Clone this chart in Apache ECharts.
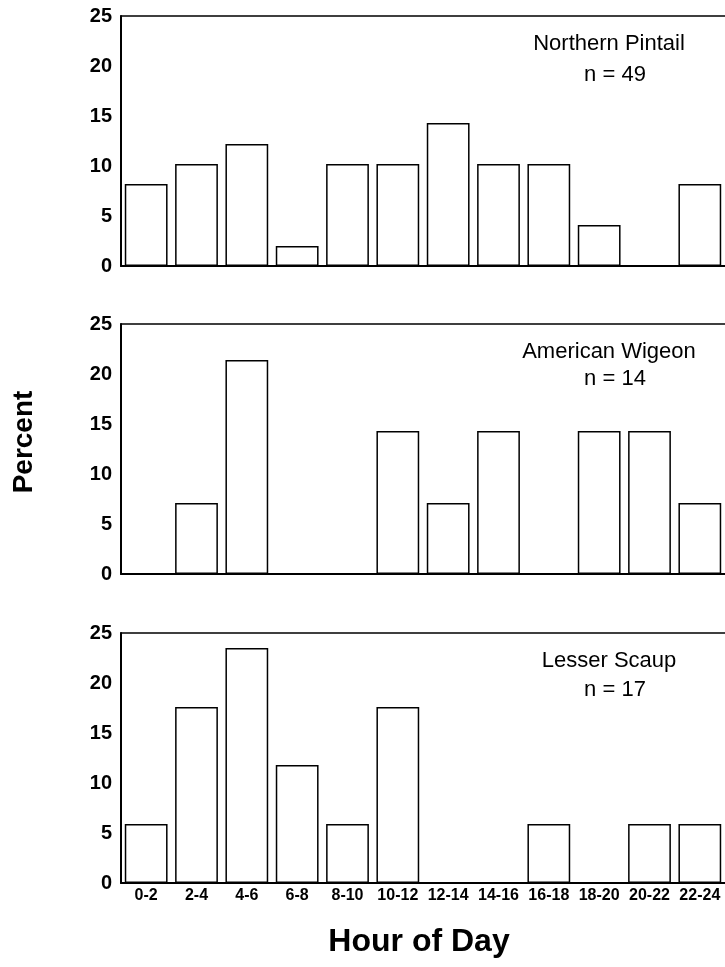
<!DOCTYPE html>
<html>
<head>
<meta charset="utf-8">
<script src="https://cdn.jsdelivr.net/npm/echarts@6/dist/echarts.min.js"></script>
<style>
html,body{margin:0;padding:0;background:#fff;}
#chart{width:725px;height:967px;}
</style>
</head>
<body>
<div id="chart"></div>
<script>
const categories = ['0-2','2-4','4-6','6-8','8-10','10-12','12-14','14-16','16-18','18-20','20-22','22-24'];
const yTicks = [0, 5, 10, 15, 20, 25];
const pintail = [8.2, 10.2, 12.2, 2.0, 10.2, 10.2, 14.3, 10.2, 10.2, 4.1, 0, 8.2];
const wigeon = [0, 7.1, 21.4, 0, 0, 14.3, 7.1, 14.3, 0, 14.3, 14.3, 7.1];
const scaup = [5.9, 17.6, 23.5, 11.8, 5.9, 17.6, 0, 0, 5.9, 0, 5.9, 5.9];
const speciesNames = ['Northern Pintail', 'American Wigeon', 'Lesser Scaup'];
const sampleSizes = ['n = 49', 'n = 14', 'n = 17'];

const FONT = '"Liberation Sans", Arial, sans-serif';
const panels = [
  {top: 16, data: pintail},
  {top: 324, data: wigeon},
  {top: 633, data: scaup}
];
const PH = 250;
const titleY = [[28, 59], [336, 363], [645, 674]];

const grid = [], xAxis = [], yAxis = [], series = [], title = [];
panels.forEach((p, i) => {
  grid.push({left: 121, width: 608, top: p.top, height: PH});
  const isLast = i === panels.length - 1;
  xAxis.push({
    type: 'category', gridIndex: i, data: categories, position: 'bottom',
    axisLine: {show: true, lineStyle: {color: '#000', width: 2}},
    axisTick: {show: false},
    axisLabel: {show: isLast, interval: 0, margin: 5, color: '#000',
      fontFamily: FONT, fontWeight: 'bold', fontSize: 16}
  });
  xAxis.push({
    type: 'category', gridIndex: i, data: categories, position: 'top',
    axisLine: {show: true, lineStyle: {color: '#000', width: 1.5}},
    axisTick: {show: false}, axisLabel: {show: false}
  });
  yAxis.push({
    type: 'value', gridIndex: i, min: yTicks[0], max: yTicks[yTicks.length - 1], interval: 5,
    axisLine: {show: true, lineStyle: {color: '#000', width: 2}},
    axisTick: {show: false},
    splitLine: {show: false},
    axisLabel: {margin: 9, color: '#000', fontFamily: FONT, fontWeight: 'bold', fontSize: 20}
  });
  series.push({
    type: 'bar', xAxisIndex: i * 2, yAxisIndex: i, data: p.data,
    barCategoryGap: '15%',
    itemStyle: {color: '#fff', borderColor: '#000', borderWidth: 1.5},
    silent: true, animation: false
  });
  title.push({text: speciesNames[i], left: 604, top: titleY[i][0], textAlign: 'center',
    textStyle: {fontFamily: FONT, fontWeight: 'normal', fontSize: 22, color: '#000'}});
  title.push({text: sampleSizes[i], left: 610, top: titleY[i][1], textAlign: 'center',
    textStyle: {fontFamily: FONT, fontWeight: 'normal', fontSize: 22, color: '#000'}});
});

const chart = echarts.init(document.getElementById('chart'), null, {renderer: 'canvas'});
chart.setOption({
  backgroundColor: '#fff',
  animation: false,
  title: title,
  grid: grid,
  xAxis: xAxis,
  yAxis: yAxis,
  series: series,
  graphic: [
    {type: 'text', x: 24, y: 442, rotation: Math.PI / 2,
      style: {text: 'Percent', font: 'bold 28px ' + FONT, fill: '#000', align: 'center', verticalAlign: 'middle'}},
    {type: 'text', x: 419, y: 942,
      style: {text: 'Hour of Day', font: 'bold 32px ' + FONT, fill: '#000', align: 'center', verticalAlign: 'middle'}}
  ]
});
</script>
</body>
</html>
